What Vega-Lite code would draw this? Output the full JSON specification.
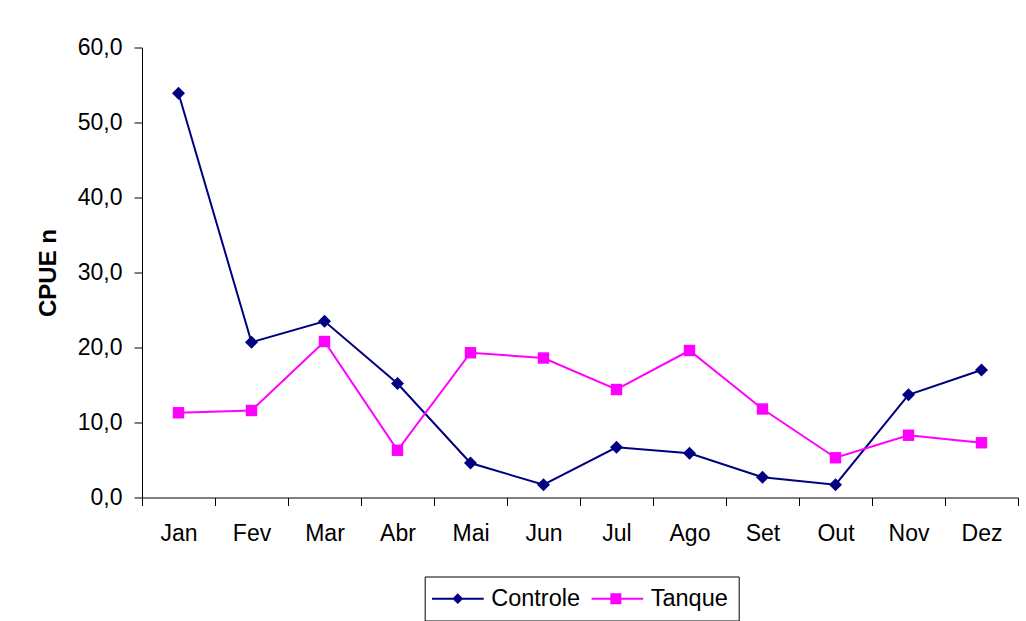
{
  "$schema": "https://vega.github.io/schema/vega-lite/v6.json",
  "width": 876,
  "height": 450,
  "autosize": "none",
  "padding": {"left": 142, "top": 47.5, "right": 8, "bottom": 123.5},
  "background": "white",
  "config": {
    "font": "Liberation Sans",
    "view": {"stroke": null},
    "axis": {
      "domainColor": "black",
      "tickColor": "black",
      "labelColor": "black",
      "titleColor": "black",
      "labelFont": "Liberation Sans",
      "titleFont": "Liberation Sans",
      "labelFontSize": 23,
      "grid": false,
      "tickSize": 8,
      "domainWidth": 1,
      "tickWidth": 1
    }
  },
  "data": {
    "values": [
      {"mes": "Jan", "serie": "Controle", "cpue": 53.9},
      {"mes": "Fev", "serie": "Controle", "cpue": 20.7},
      {"mes": "Mar", "serie": "Controle", "cpue": 23.5},
      {"mes": "Abr", "serie": "Controle", "cpue": 15.2},
      {"mes": "Mai", "serie": "Controle", "cpue": 4.6},
      {"mes": "Jun", "serie": "Controle", "cpue": 1.7},
      {"mes": "Jul", "serie": "Controle", "cpue": 6.7},
      {"mes": "Ago", "serie": "Controle", "cpue": 5.9},
      {"mes": "Set", "serie": "Controle", "cpue": 2.7},
      {"mes": "Out", "serie": "Controle", "cpue": 1.7},
      {"mes": "Nov", "serie": "Controle", "cpue": 13.7},
      {"mes": "Dez", "serie": "Controle", "cpue": 17.0},
      {"mes": "Jan", "serie": "Tanque", "cpue": 11.3},
      {"mes": "Fev", "serie": "Tanque", "cpue": 11.6},
      {"mes": "Mar", "serie": "Tanque", "cpue": 20.8},
      {"mes": "Abr", "serie": "Tanque", "cpue": 6.3},
      {"mes": "Mai", "serie": "Tanque", "cpue": 19.3},
      {"mes": "Jun", "serie": "Tanque", "cpue": 18.6},
      {"mes": "Jul", "serie": "Tanque", "cpue": 14.4},
      {"mes": "Ago", "serie": "Tanque", "cpue": 19.6},
      {"mes": "Set", "serie": "Tanque", "cpue": 11.8},
      {"mes": "Out", "serie": "Tanque", "cpue": 5.3},
      {"mes": "Nov", "serie": "Tanque", "cpue": 8.3},
      {"mes": "Dez", "serie": "Tanque", "cpue": 7.3}
    ]
  },
  "encoding": {
    "x": {
      "field": "mes",
      "type": "ordinal",
      "sort": ["Jan", "Fev", "Mar", "Abr", "Mai", "Jun", "Jul", "Ago", "Set", "Out", "Nov", "Dez"],
      "scale": {"type": "band", "paddingInner": 0, "paddingOuter": 0},
      "bandPosition": 0.5,
      "axis": {"title": null, "labelAngle": 0, "tickBand": "extent", "labelPadding": 17}
    },
    "y": {
      "field": "cpue",
      "type": "quantitative",
      "scale": {"domain": [0, 60], "nice": false},
      "axis": {
        "values": [0, 10, 20, 30, 40, 50, 60],
        "labelExpr": "replace(format(datum.value, '.1f'), '.', ',')",
        "labelPadding": 12,
        "title": "CPUE n",
        "titleFontSize": 24,
        "titleFontWeight": "bold",
        "titlePadding": 17
      }
    }
  },
  "layer": [
    {
      "transform": [{"filter": "false"}],
      "mark": {"type": "point", "filled": false, "opacity": 1, "strokeWidth": 2},
      "encoding": {
        "color": {
          "field": "serie",
          "type": "nominal",
          "scale": {"domain": ["Controle", "Tanque"], "range": ["#000080", "#FF00FF"]},
          "legend": {
            "orient": "none",
            "legendX": 282.7,
            "legendY": 529,
            "direction": "horizontal",
            "title": null,
            "strokeColor": "black",
            "fillColor": "white",
            "padding": 10,
            "symbolSize": 100,
            "symbolStrokeWidth": 2,
            "symbolOpacity": 1,
            "labelFontSize": 23.5,
            "labelFont": "Liberation Sans",
            "labelColor": "black",
            "labelOffset": 33,
            "columnPadding": 6.5
          }
        },
        "shape": {
          "field": "serie",
          "type": "nominal",
          "scale": {
            "domain": ["Controle", "Tanque"],
            "range": [
              "M-2.88,0H7.46M1.46,0L2.26,-0.8L3.06,0L2.26,0.8ZM1.76,0L2.26,-0.5L2.76,0L2.26,0.5ZM2.06,0L2.26,-0.2L2.46,0L2.26,0.2Z",
              "M-2.88,0H7.44M1.08,-0.9H2.88V0.9H1.08ZM1.38,-0.6H2.58V0.6H1.38ZM1.68,-0.3H2.28V0.3H1.68Z"
            ]
          },
          "legend": null
        }
      }
    },
    {
      "mark": {"type": "line", "strokeWidth": 2},
      "encoding": {
        "color": {"field": "serie", "type": "nominal", "legend": null}
      }
    },
    {
      "transform": [{"filter": "datum.serie === 'Controle'"}],
      "mark": {"type": "point", "shape": "diamond", "filled": true, "color": "#000080", "opacity": 1, "size": 170}
    },
    {
      "transform": [{"filter": "datum.serie === 'Tanque'"}],
      "mark": {"type": "point", "shape": "square", "filled": true, "color": "#FF00FF", "opacity": 1, "size": 130}
    }
  ]
}
